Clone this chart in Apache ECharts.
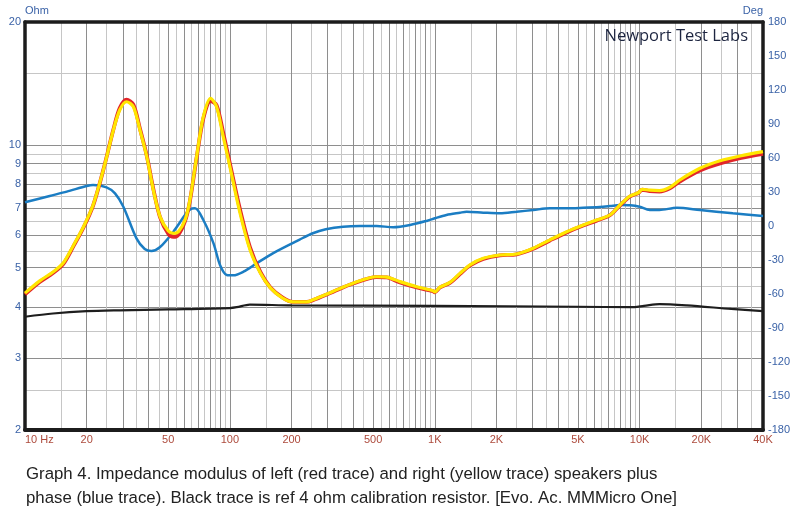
<!DOCTYPE html>
<html><head><meta charset="utf-8">
<script src="https://cdn.jsdelivr.net/npm/echarts@6/dist/echarts.min.js"></script>
<style>html,body{margin:0;padding:0;background:#fff}#c{width:795px;height:520px}</style>
</head><body><div id="c"></div>
<script>
// Impedance modulus (Ohm) — frequencies in Hz
const freqZ = [10, 11.8, 13.7, 15.4, 17.2, 19.3, 21.5, 24.1, 27, 29, 31.3, 33.8, 36.4, 39.3, 42.3, 45.6, 50.1, 53, 56, 60.4, 63.8, 68.8, 74.2, 80.5, 86.1, 92.8, 100, 112, 125.5, 140.8, 157.7, 181, 203, 237, 254, 318, 399, 520, 582, 676, 816, 980, 1000, 1060, 1186, 1327, 1486, 1725, 2080, 2510, 3025, 3650, 4403, 5305, 6170, 7160, 8015, 8970, 9850, 10300, 11200, 12500, 14050, 15700, 19700, 24700, 30900, 40000];
const rightZ = [4.33, 4.64, 4.88, 5.14, 5.66, 6.30, 7.12, 8.67, 10.87, 12.17, 12.75, 12.4, 10.87, 9.35, 7.75, 6.67, 6.15, 6.07, 6.12, 6.54, 7.32, 9.35, 11.72, 13.0, 12.4, 10.47, 8.84, 6.81, 5.52, 4.85, 4.46, 4.21, 4.12, 4.12, 4.17, 4.37, 4.58, 4.75, 4.74, 4.62, 4.49, 4.39, 4.36, 4.48, 4.6, 4.84, 5.08, 5.27, 5.37, 5.40, 5.58, 5.85, 6.12, 6.36, 6.54, 6.73, 7.12, 7.49, 7.63, 7.78, 7.74, 7.72, 7.87, 8.20, 8.76, 9.14, 9.39, 9.62];
const leftZ = [4.30, 4.61, 4.85, 5.11, 5.63, 6.27, 7.10, 8.67, 10.9, 12.3, 12.9, 12.55, 10.95, 9.4, 7.8, 6.65, 6.05, 5.95, 6.02, 6.5, 7.28, 9.3, 11.6, 12.8, 12.5, 10.7, 9.0, 6.95, 5.6, 4.88, 4.47, 4.22, 4.12, 4.12, 4.16, 4.36, 4.57, 4.74, 4.73, 4.6, 4.47, 4.38, 4.35, 4.47, 4.59, 4.82, 5.06, 5.25, 5.36, 5.39, 5.56, 5.83, 6.1, 6.34, 6.52, 6.72, 7.1, 7.47, 7.62, 7.76, 7.7, 7.68, 7.82, 8.13, 8.65, 9.0, 9.27, 9.5];
// Phase (deg)
const freqPhase = [10, 13.2, 16, 20, 21.5, 25, 27.5, 30.2, 35, 38.4, 41.4, 45.5, 53, 60.4, 64, 67.6, 74.2, 83.2, 89.5, 96.5, 104, 116.5, 135, 162, 219, 254, 294, 357, 432, 520, 626, 758, 920, 1000, 1140, 1327, 1430, 1725, 2080, 2510, 3025, 3650, 4400, 5300, 6380, 7160, 8015, 9000, 10000, 11200, 12500, 15200, 19700, 28500, 40000];
const phase = [20.9, 26.5, 30.3, 35.3, 36.2, 34.1, 28.8, 17.0, -10.9, -20.3, -22.1, -18.8, -5.0, 9.7, 14.7, 15.6, 5.3, -15.3, -34.4, -43.2, -43.5, -40.3, -33.0, -24.1, -12.0, -6.4, -2.9, -0.6, 0, 0, -1.1, 0.9, 4.7, 6.8, 9.7, 11.7, 12.6, 11.8, 11.2, 12.6, 14.1, 15.6, 15.6, 16.1, 16.8, 17.6, 18.5, 18.3, 17.0, 14.1, 14.1, 16.1, 14.1, 11.2, 8.8];
// Reference 4 ohm resistor
const freqRef = [10, 13.7, 20, 29, 50, 100, 108, 125, 200, 1000, 5000, 9000, 10500, 12500, 17000, 28000, 40000];
const refZ = [3.79, 3.86, 3.91, 3.93, 3.95, 3.98, 4.0, 4.06, 4.04, 4.03, 4.01, 4.0, 4.03, 4.07, 4.04, 3.96, 3.91];

const xLabelValues = [10, 20, 50, 100, 200, 500, 1000, 2000, 5000, 10000, 20000, 40000];
const yLabelValues = [2, 3, 4, 5, 6, 7, 8, 9, 10, 20];
const xGridMantissas = [1, 1.5, 2, 2.5, 3, 3.5, 4, 4.5, 5, 5.5, 6, 6.5, 7, 7.5, 8, 8.5, 9, 9.5];
const xGridDecades = [10, 100, 1000, 10000];
const yGridValues = [2.5, 3, 3.5, 4, 4.5, 5, 5.5, 6, 6.5, 7, 7.5, 8, 8.5, 9, 9.5, 10, 15];

const xGrid = [];
xGridDecades.forEach(d => xGridMantissas.forEach(m => { const v = Math.round(d * m); if (v > 10 && v < 40000) xGrid.push(v); }));

const FONT = "'Liberation Sans Narrow', 'Liberation Sans', sans-serif";
const GRID_LIGHT = '#c6c6c6', GRID_DARK = '#8e8e8e';
const FRAME = '#1c1c1c';
const pairs = (xs, ys) => xs.map((x, i) => [x, ys[i]]);

const chart = echarts.init(document.getElementById('c'), null, {renderer: 'canvas'});
chart.setOption({
  animation: false,
  backgroundColor: '#fff',
  title: [
    {text: 'Newport Test Labs', right: 42, top: 23,
     textStyle: {fontFamily: "'Open Sans', sans-serif", fontSize: 16.5, fontWeight: 'normal', color: '#1d2540'}},
    {text: 'Graph 4. Impedance modulus of left (red trace) and right (yellow trace) speakers plus\nphase (blue trace). Black trace is ref 4 ohm calibration resistor. [Evo. Ac. MMMicro One]',
     left: 21, top: 457,
     textStyle: {fontFamily: FONT, fontSize: 16.8, fontWeight: 'normal', color: '#222', lineHeight: 24}}
  ],
  grid: {left: 25, right: 32, top: 22, bottom: 90, containLabel: false},
  xAxis: [{
    type: 'log', logBase: 10, min: 10, max: 40000, position: 'bottom',
    axisLine: {show: true, onZero: false, lineStyle: {color: FRAME, width: 4}},
    axisTick: {show: false, customValues: xGrid},
    splitLine: {show: true, lineStyle: {color: [GRID_LIGHT, GRID_DARK], width: 1}},
    minorSplitLine: {show: false},
    axisLabel: {customValues: xLabelValues, margin: 4, color: '#ad4a3c', fontFamily: FONT, fontSize: 11,
      alignMinLabel: 'left',
      formatter: v => v === 10 ? '10 Hz' : (v >= 1000 ? (v / 1000) + 'K' : String(v))}
  }, {
    type: 'log', logBase: 10, min: 10, max: 40000, position: 'top',
    axisLine: {show: true, onZero: false, lineStyle: {color: FRAME, width: 3.5}},
    axisTick: {show: false}, axisLabel: {show: false}, splitLine: {show: false}
  }],
  yAxis: [{
    type: 'log', logBase: 10, min: 2, max: 20, position: 'left',
    name: 'Ohm', nameLocation: 'end', nameGap: 5,
    nameTextStyle: {color: '#3a62a7', fontFamily: FONT, fontSize: 11, align: 'left'},
    axisLine: {show: true, onZero: false, lineStyle: {color: FRAME, width: 3.5}},
    axisTick: {show: false, customValues: yGridValues},
    splitLine: {show: true, lineStyle: {color: [GRID_LIGHT, GRID_DARK], width: 1}},
    axisLabel: {customValues: yLabelValues, margin: 4, color: '#3a62a7', fontFamily: FONT, fontSize: 11}
  }, {
    type: 'value', min: -180, max: 180, interval: 30, position: 'right',
    name: 'Deg', nameLocation: 'end', nameGap: 5,
    nameTextStyle: {color: '#3a62a7', fontFamily: FONT, fontSize: 11, align: 'right'},
    axisLine: {show: true, onZero: false, lineStyle: {color: FRAME, width: 3.5}},
    axisTick: {show: false}, splitLine: {show: false},
    axisLabel: {margin: 5, color: '#3a62a7', fontFamily: FONT, fontSize: 11}
  }],
  series: [
    {name: 'Ref 4 ohm', type: 'line', xAxisIndex: 0, yAxisIndex: 0, data: pairs(freqRef, refZ),
     showSymbol: false, smooth: 0.3, lineStyle: {color: '#1e1e1e', width: 2.2}, z: 3},
    {name: 'Phase', type: 'line', xAxisIndex: 0, yAxisIndex: 1, data: pairs(freqPhase, phase),
     showSymbol: false, smooth: 0.3, lineStyle: {color: '#1b7dc3', width: 2.5}, z: 4},
    {name: 'Left', type: 'line', xAxisIndex: 0, yAxisIndex: 0, data: pairs(freqZ, leftZ),
     showSymbol: false, smooth: 0.3, lineStyle: {color: '#e2262a', width: 3.8}, z: 5},
    {name: 'Right', type: 'line', xAxisIndex: 0, yAxisIndex: 0, data: pairs(freqZ, rightZ),
     showSymbol: false, smooth: 0.3, lineStyle: {color: '#ffe600', width: 3.2}, z: 6}
  ]
});
</script></body></html>
